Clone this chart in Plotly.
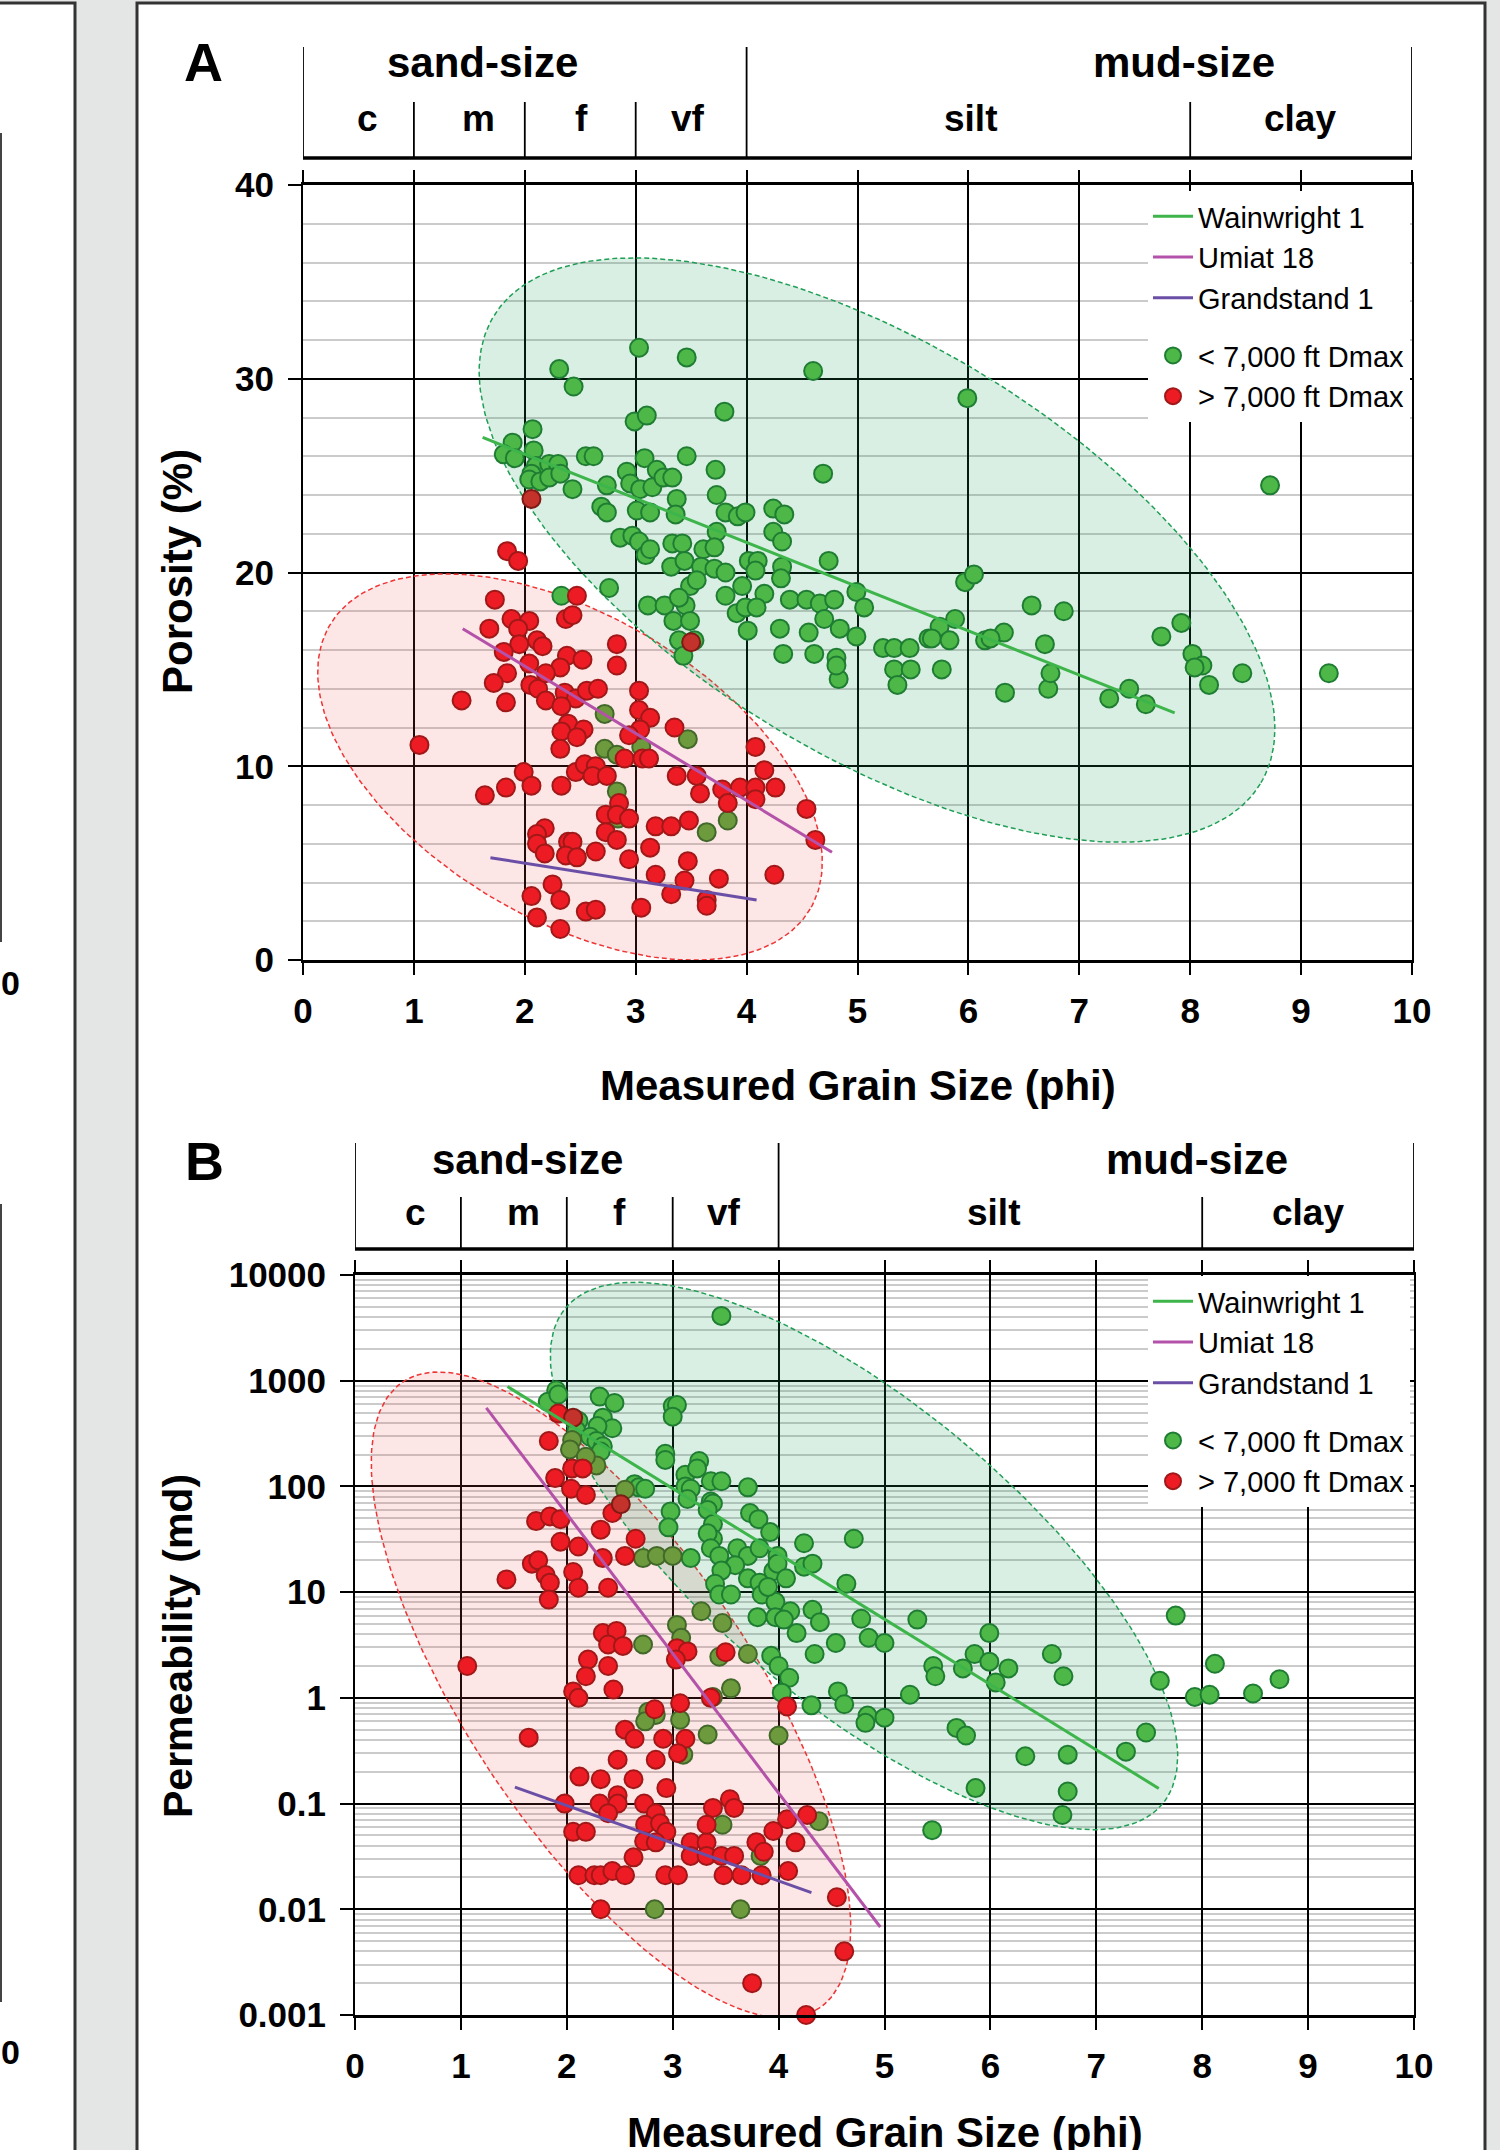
import numpy as np
import plotly.graph_objects as go

W, H = 1500, 2150
FONT = "Liberation Sans, Arial, Helvetica, sans-serif"

# ======================= DATA =======================
# Panel A : porosity (%) vs measured grain size (phi)
a_green_phi = [3.03, 2.31, 2.44, 3.46, 4.60, 3.80, 2.99, 3.10, 5.99, 8.72, 9.25,
               2.07, 1.89, 1.81, 1.91, 2.08, 2.10, 2.55, 2.62, 3.08, 3.46,
               2.22, 2.30, 2.06, 2.04, 2.14, 2.22, 2.32, 2.43, 2.74, 2.92, 2.95, 3.04, 3.15, 3.19,
               3.25, 3.33, 3.72, 3.37, 3.73, 2.69, 2.74, 3.01, 3.13, 3.36, 3.81, 3.92, 3.99, 4.24,
               4.34, 4.69, 2.86, 2.97, 3.03, 3.09, 3.13, 3.33, 3.42, 3.61, 3.73, 3.71,
               3.32, 3.44, 3.59, 3.71, 3.81, 4.02, 4.10, 4.08, 4.24, 4.32, 4.32, 4.74, 4.31,
               2.76, 3.49, 3.55, 3.96, 4.16, 3.81, 3.11, 3.26, 3.45, 3.39, 3.91, 3.99, 4.09,
               4.39, 4.54, 4.66, 4.79, 3.34, 3.49, 4.01, 4.30, 4.56, 3.39, 3.53, 3.43,
               4.99, 5.06, 4.70, 4.84, 4.99, 4.33, 4.61, 4.81, 4.83, 4.81,
               5.23, 5.33, 5.47, 5.33, 5.48, 5.36, 5.64, 5.97, 6.05, 6.57, 6.86,
               5.88, 5.74, 5.67, 5.83, 6.15, 6.32, 6.69, 5.76, 6.72, 6.74, 6.33, 7.27, 7.45, 7.60,
               7.74, 7.92, 8.02, 8.11, 8.04, 8.17, 8.47, 6.20,
               2.33, 2.72, 2.72, 2.83, 3.05, 3.47, 2.83, 2.84, 3.83, 3.64]
a_green_por = [31.6, 30.5, 29.6, 31.1, 30.4, 28.3, 27.8, 28.1, 29.0, 24.5, 14.8,
               27.4, 26.7, 26.1, 25.9, 26.3, 25.5, 26.0, 26.0, 25.9, 26.0,
               25.6, 25.6, 25.1, 24.8, 24.7, 24.9, 25.1, 24.3, 24.5, 25.2, 24.6, 24.3, 24.4, 25.3,
               24.9, 24.9, 25.3, 23.8, 24.0, 23.4, 23.1, 23.2, 23.1, 23.0, 23.1, 22.9, 23.1, 23.3,
               23.0, 25.1, 21.8, 21.9, 21.6, 20.9, 21.2, 21.5, 21.5, 21.2, 22.1, 21.3,
               20.3, 20.6, 20.3, 20.2, 20.0, 20.6, 20.6, 20.1, 22.1, 21.6, 20.3, 20.6, 19.7,
               19.2, 19.3, 19.6, 19.3, 18.9, 18.8, 18.3, 18.3, 18.3, 18.7, 17.9, 18.2, 18.2,
               18.6, 18.6, 18.4, 18.6, 17.5, 17.5, 17.0, 17.1, 16.9, 16.5, 16.5, 15.7,
               19.0, 18.2, 17.6, 17.1, 16.7, 15.8, 15.8, 15.6, 14.5, 15.2,
               16.1, 16.1, 16.1, 15.0, 15.0, 14.2, 16.6, 19.5, 19.9, 18.3, 18.0,
               17.6, 17.2, 16.6, 16.5, 16.5, 16.9, 16.3, 15.0, 14.0, 14.8, 13.8, 13.5, 14.0, 13.2,
               16.7, 17.4, 15.8, 15.2, 15.1, 14.2, 14.8, 16.6,
               18.8, 12.7, 10.9, 10.6, 11.0, 11.4, 8.7, 7.3, 7.2, 6.6]

a_red_phi = [1.84, 2.06, 1.94, 1.73, 2.47, 1.88, 2.04, 1.68, 1.94, 2.37, 2.43, 2.11, 2.16, 1.95,
             1.81, 2.83, 2.38, 2.52, 2.04, 2.32, 2.83, 1.84, 1.72, 2.05, 2.12, 2.19, 2.36, 2.46,
             2.56, 2.66, 3.03, 1.43, 1.83, 2.19, 2.33, 3.03, 3.13, 2.39, 2.53, 2.33, 2.47, 3.04,
             2.94, 3.35, 1.05, 2.32, 4.08, 2.90, 3.06, 3.12, 4.16, 1.99, 2.46, 2.54, 2.64, 2.61,
             2.74, 3.37, 3.55, 2.06, 2.33, 1.83, 1.64, 3.58, 3.78, 3.94, 4.08, 4.08, 4.26, 3.83,
             2.85, 2.73, 2.83, 2.94, 4.54, 3.18, 3.32, 3.48, 2.18, 2.11, 2.73, 2.83, 2.11, 2.18,
             2.39, 2.43, 2.37, 2.47, 2.64, 3.13, 4.62, 2.94, 3.47, 3.18, 3.44, 3.75, 4.25, 2.25,
             2.06, 2.32, 3.32, 3.64, 3.64, 2.11, 2.55, 2.64, 3.05, 2.32, 3.50]
a_red_por = [21.1, 23.8, 20.6, 18.6, 18.8, 17.6, 17.5, 17.1, 17.1, 17.6, 17.8, 16.5, 16.2, 16.3,
             15.9, 16.3, 15.7, 15.5, 15.3, 15.1, 15.2, 14.8, 14.3, 14.2, 14.0, 14.8, 13.8, 13.5,
             13.9, 14.0, 13.9, 13.4, 13.3, 13.4, 13.1, 12.9, 12.5, 12.2, 11.9, 11.8, 11.5, 11.9,
             11.6, 12.0, 11.1, 10.9, 11.0, 10.4, 10.4, 10.4, 9.8, 9.7, 9.7, 10.1, 10.0, 9.5,
             9.5, 9.5, 9.5, 9.0, 9.0, 8.9, 8.5, 8.6, 8.8, 8.9, 8.9, 8.3, 8.9, 8.1,
             8.1, 7.5, 7.5, 7.3, 7.8, 6.9, 6.9, 7.2, 6.8, 6.5, 6.6, 6.2, 6.0, 5.5,
             6.1, 6.1, 5.4, 5.3, 5.6, 5.8, 6.2, 5.2, 5.1, 4.4, 4.1, 4.2, 4.4, 3.9,
             3.3, 3.1, 3.4, 3.1, 2.8, 2.2, 2.5, 2.6, 2.7, 1.6, 16.4]

# trend lines (end points)
a_wain_phi, a_wain_por = [1.62, 7.86], [26.97, 12.75]
a_umiat_phi, a_umiat_por = [1.44, 4.77], [17.1, 5.56]
a_grand_phi, a_grand_por = [1.69, 4.09], [5.28, 3.10]

# Panel B : permeability (md) vs measured grain size (phi)
b_green_phi = [3.46, 1.90, 1.82, 1.92, 2.31, 2.45, 2.34, 2.43, 2.29, 2.11, 2.09, 2.05, 2.03,
               2.22, 2.28, 2.34, 2.32, 2.28, 2.18, 3.00, 3.04, 3.00, 2.93, 2.93, 3.12, 3.25, 3.23,
               2.64, 2.68, 2.74, 2.55, 3.12, 3.17, 3.14, 2.98, 2.96,
               2.72, 2.85, 3.00, 3.17, 3.27, 2.72, 3.04, 3.08,
               3.36, 3.46, 3.71, 3.36, 3.38, 3.33, 3.38, 3.38, 3.33, 3.73, 3.81, 3.92,
               3.36, 3.44, 3.61, 3.71, 3.82, 3.59, 3.46, 3.40, 3.44, 3.55, 3.71, 3.82, 3.95,
               3.99, 3.99, 4.07, 3.84, 3.97, 3.90, 4.24, 4.71, 4.24, 4.32, 4.64,
               4.11, 4.32, 4.39, 3.80, 3.97, 4.05, 3.47, 4.78, 5.31, 4.17, 4.34, 4.54, 4.85, 5.00,
               5.99, 3.71, 3.93, 4.00, 4.10, 5.46, 5.48, 5.74, 5.85, 5.99, 6.17, 6.05, 6.58, 6.69,
               7.60, 7.75, 8.12, 7.93, 8.07, 8.48, 8.73, 4.03, 4.31, 4.56, 4.62, 4.84, 4.82, 5.00,
               5.24, 5.68, 5.77, 7.47, 7.28, 6.33, 6.73, 5.86, 6.73, 6.68, 5.45, 3.44,
               3.55, 3.38, 2.77, 2.84, 2.74, 3.07, 3.33, 4.00, 3.10, 3.47, 4.38, 3.83, 2.83, 3.64]
b_green_perm = [4100, 813, 631, 741, 708, 617, 447, 355, 372, 417, 339, 275, 224,
                295, 269, 240, 214, 158, 191, 575, 589, 457, 204, 178, 129, 174, 148,
                105, 98, 95, 93, 100, 95, 76, 58, 41,
                21, 22, 22, 21, 6.6, 3.2, 4.9, 3.7,
                112, 112, 98, 72, 69, 60, 44, 32, 36, 56, 49, 37,
                26, 22, 26, 22, 26, 18, 16, 12, 9.5, 9.5, 13.5, 12.3, 15.8,
                22, 18.6, 13.5, 9.5, 8.1, 11.2, 29, 32, 17.4, 18.6, 12,
                6.6, 6.8, 5.2, 5.8, 5.8, 5.5, 5.1, 5.6, 5.5, 4.1, 2.6, 3.3, 3.7, 3.3,
                4.1, 2.6, 2.5, 2.0, 1.55, 2.0, 1.6, 1.9, 2.6, 2.2, 1.9, 1.4, 2.6, 1.6,
                1.45, 6.0, 2.1, 1.02, 1.07, 1.1, 1.5, 1.12, 0.85, 1.15, 0.87, 0.68, 0.58, 0.65,
                1.07, 0.52, 0.44, 0.47, 0.31, 0.28, 0.29, 0.14, 0.13, 0.078, 0.056, 2.45,
                1.23, 1.02, 0.74, 0.69, 0.60, 0.62, 0.45, 0.44, 0.29, 0.063, 0.068, 0.032, 0.010, 0.010]

b_red_phi = [1.83, 1.92, 2.06, 2.05, 2.15, 1.89, 2.04, 2.18, 2.51, 2.43, 2.32, 1.71, 1.84, 1.94,
             1.94, 2.11, 2.65, 2.34, 2.55, 1.67, 1.73, 1.43, 1.80, 1.84, 1.83, 2.06, 2.11, 2.39,
             2.34, 2.47, 2.39, 2.53, 2.20, 2.39, 2.18, 2.06, 2.11, 2.44, 1.06, 3.04, 3.14, 3.03,
             3.50, 3.36, 3.07, 2.83, 4.08, 1.64, 2.55, 2.64, 2.91, 3.12, 3.05, 2.48, 2.84, 2.12,
             2.32, 2.63, 2.94, 2.48, 1.98, 2.31, 2.48, 2.73, 2.39, 2.84, 2.74, 2.88, 2.94, 2.73,
             2.84, 2.63, 2.06, 2.18, 2.11, 2.26, 2.32, 2.43, 2.55, 2.93, 3.05, 3.17, 3.32, 3.17,
             3.32, 3.38, 3.32, 3.54, 3.58, 3.46, 3.58, 3.48, 3.65, 3.84, 3.79, 3.86, 3.95, 4.08,
             4.16, 4.09, 4.27, 2.32, 4.55, 4.62, 3.75, 4.26]
b_red_perm = [269, 490, 447, 148, 148, 120, 95, 83, 68, 56, 39, 47, 52, 49,
              30, 27, 32, 21, 22, 18.6, 20, 13.2, 14.5, 12.3, 8.5, 15.5, 11, 11,
              4.1, 4.3, 3.2, 3.1, 2.3, 2.0, 1.6, 1.15, 1.0, 1.2, 2.0, 2.95, 2.75, 2.3,
              2.7, 1.0, 0.89, 0.78, 0.83, 0.42, 0.50, 0.41, 0.41, 0.41, 0.30, 0.26, 0.26, 0.18,
              0.17, 0.17, 0.14, 0.12, 0.10, 0.10, 0.10, 0.10, 0.081, 0.081, 0.063, 0.065, 0.054, 0.044,
              0.043, 0.031, 0.054, 0.054, 0.021, 0.021, 0.021, 0.023, 0.021, 0.021, 0.021, 0.043, 0.043, 0.032,
              0.032, 0.091, 0.063, 0.11, 0.091, 0.032, 0.032, 0.021, 0.021, 0.021, 0.043, 0.035, 0.055, 0.071,
              0.043, 0.023, 0.078, 0.010, 0.013, 0.004, 0.002, 0.001]

b_wain_phi, b_wain_perm = [1.44, 7.59], [880, 0.139]
b_umiat_phi, b_umiat_perm = [1.24, 4.96], [553, 0.0068]
b_grand_phi, b_grand_perm = [1.51, 4.31], [0.143, 0.0144]

# category labels
well_names = ["Wainwright 1", "Umiat 18", "Grandstand 1"]
depth_names = ["< 7,000 ft Dmax", "> 7,000 ft Dmax"]
size_groups = ["sand-size", "mud-size"]
grain_classes = ["c", "m", "f", "vf", "silt", "clay"]
class_bounds = [0, 1, 2, 3, 4, 8, 10]
group_bounds = [0, 4, 10]

# ======================= LAYOUT GEOMETRY (pixels) =======================
PA = dict(x0=303, x1=1412, y0=185, y1=960, xr=(0, 10), yr=(0, 40), log=False)
PB = dict(x0=355, x1=1414, y0=1275, y1=2015, xr=(0, 10), yr=(-3, 4), log=True)

# envelope ellipses: centre (px), semi-axes (px), tilt (deg, screen)
ELL_A_GREEN = (877, 550, 449, 205, 31.4)
ELL_A_RED = (570, 767, 279, 152, 30.6)
ELL_B_GREEN = (864, 1556, 388, 151, 39.7)
ELL_B_RED = (611, 1695, 376, 143, 56.4)

GREEN, GREEN_EDGE = "#4db848", "#1f7d33"
RED, RED_EDGE = "#ed1c24", "#a01818"
OLIVE, OLIVE_EDGE = "#6c9a3c", "#42682a"
DKRED, DKRED_EDGE = "#c3322b", "#7f1b15"
C_WAIN, C_UMIAT, C_GRAND = "#3db54a", "#b452a9", "#6b4fa6"


def scale(p):
    sx = (p['x1'] - p['x0']) / (p['xr'][1] - p['xr'][0])
    sy = (p['y1'] - p['y0']) / (p['yr'][1] - p['yr'][0])
    return sx, sy


def to_px(p, x, y):
    sx, sy = scale(p)
    x = np.asarray(x, float)
    y = np.asarray(y, float)
    yy = np.log10(y) if p['log'] else y
    return p['x0'] + (x - p['xr'][0]) * sx, p['y1'] - (yy - p['yr'][0]) * sy


def from_px(p, px, py):
    sx, sy = scale(p)
    x = p['xr'][0] + (px - p['x0']) / sx
    yy = p['yr'][0] + (p['y1'] - py) / sy
    return x, (10 ** yy if p['log'] else yy)


def ellipse(p, e, n=240):
    cx, cy, a, b, ang = e
    th = np.radians(ang)
    t = np.linspace(0, 2 * np.pi, n)
    px = cx + a * np.cos(t) * np.cos(th) - b * np.sin(t) * np.sin(th)
    py = cy + a * np.cos(t) * np.sin(th) + b * np.sin(t) * np.cos(th)
    return from_px(p, px, py)


def inside(p, e, x, y):
    cx, cy, a, b, ang = e
    th = np.radians(ang)
    px, py = to_px(p, x, y)
    dx, dy = px - cx, py - cy
    u = dx * np.cos(th) + dy * np.sin(th)
    v = -dx * np.sin(th) + dy * np.cos(th)
    return (u / a) ** 2 + (v / b) ** 2 <= 1.0


fig = go.Figure()


def add_panel(p, xa, ya, leg, ell_g, ell_r, g_phi, g_val, r_phi, r_val, lines):
    for e, fc, lc in [(ell_r, "rgba(235,80,80,0.14)", "#ee3535"),
                      (ell_g, "rgba(30,160,90,0.17)", "#1f9e55")]:
        ex, ey = ellipse(p, e)
        fig.add_trace(go.Scatter(x=ex, y=ey, mode="lines", fill="toself", fillcolor=fc,
                                 line=dict(color=lc, width=1.5, dash="5px,3px"),
                                 hoverinfo="skip", showlegend=False, xaxis=xa, yaxis=ya))
    for phi, val, other, base, edge, tint, tedge, name, rank in [
            (g_phi, g_val, ell_r, GREEN, GREEN_EDGE, OLIVE, OLIVE_EDGE, depth_names[0], 4),
            (r_phi, r_val, ell_g, RED, RED_EDGE, DKRED, DKRED_EDGE, depth_names[1], 5)]:
        phi = np.asarray(phi, float)
        val = np.asarray(val, float)
        ins = inside(p, other, phi, val)
        order = np.argsort(ins, kind="stable")
        phi, val, ins = phi[order], val[order], ins[order]
        fig.add_trace(go.Scatter(
            x=phi, y=val, mode="markers", name=name, legend=leg, legendgroup="pts",
            legendrank=rank, cliponaxis=False,
            marker=dict(size=18, color=[tint if i else base for i in ins],
                        line=dict(color=[tedge if i else edge for i in ins], width=2)),
            xaxis=xa, yaxis=ya, hoverinfo="x+y"))
    for (lx, ly), name, col, rank in zip(lines, well_names, [C_WAIN, C_UMIAT, C_GRAND], [1, 2, 3]):
        fig.add_trace(go.Scatter(x=lx, y=ly, mode="lines", name=name, legend=leg,
                                 legendgroup="lines", legendrank=rank,
                                 line=dict(color=col, width=3), xaxis=xa, yaxis=ya))


add_panel(PA, "x", "y", "legend", ELL_A_GREEN, ELL_A_RED,
          a_green_phi, a_green_por, a_red_phi, a_red_por,
          [(a_wain_phi, a_wain_por), (a_umiat_phi, a_umiat_por), (a_grand_phi, a_grand_por)])
add_panel(PB, "x2", "y2", "legend2", ELL_B_GREEN, ELL_B_RED,
          b_green_phi, b_green_perm, b_red_phi, b_red_perm,
          [(b_wain_phi, b_wain_perm), (b_umiat_phi, b_umiat_perm), (b_grand_phi, b_grand_perm)])

tickfont = dict(family=FONT, size=35, color="black", weight="bold")


def xaxis(p, anchor):
    return dict(domain=[p['x0'] / W, p['x1'] / W], range=list(p['xr']), tickmode="linear",
                tick0=0, dtick=1, showgrid=True, gridcolor="black", gridwidth=1.5,
                showline=True, linecolor="black", linewidth=3, mirror="ticks",
                ticks="outside", ticklen=12, tickwidth=1.5, tickcolor="black",
                tickfont=tickfont, zeroline=False, anchor=anchor, ticklabelstandoff=6,
                automargin=False, fixedrange=True)


yA = dict(domain=[1 - PA['y1'] / H, 1 - PA['y0'] / H], range=list(PA['yr']), tickmode="linear",
          tick0=0, dtick=10, showgrid=True, gridcolor="black", gridwidth=2,
          minor=dict(tickmode="linear", tick0=0, dtick=2, showgrid=True,
                     gridcolor="#cbcbcb", gridwidth=2, ticks=""),
          showline=True, linecolor="black", linewidth=2, mirror=True,
          ticks="outside", ticklen=13, tickwidth=2, tickcolor="black",
          tickfont=tickfont, zeroline=False, anchor="x", ticklabelstandoff=7,
          automargin=False, fixedrange=True)
yB = dict(domain=[1 - PB['y1'] / H, 1 - PB['y0'] / H], type="log", range=list(PB['yr']),
          tickmode="linear", tick0=0, dtick=1, tickformat="~g",
          showgrid=True, gridcolor="black", gridwidth=2,
          minor=dict(tickmode="linear", dtick="D1", showgrid=True,
                     gridcolor="#cbcbcb", gridwidth=1.5, ticks=""),
          showline=True, linecolor="black", linewidth=2, mirror=True,
          ticks="outside", ticklen=13, tickwidth=2, tickcolor="black",
          tickfont=tickfont, zeroline=False, anchor="x2", ticklabelstandoff=7,
          automargin=False, fixedrange=True)


def PX(px):
    return px / W


def PY(py):
    return 1 - py / H


shapes = [
    dict(type="rect", xref="paper", yref="paper", x0=PX(-10), x1=PX(75), y0=PY(2200), y1=PY(3),
         fillcolor="white", line=dict(color="#333333", width=3), layer="below"),
    dict(type="rect", xref="paper", yref="paper", x0=PX(137), x1=PX(1485), y0=PY(2200), y1=PY(3),
         fillcolor="white", line=dict(color="#333333", width=3), layer="below"),
    dict(type="line", xref="paper", yref="paper", x0=PX(1), x1=PX(1), y0=PY(133), y1=PY(942),
         line=dict(color="#444444", width=2)),
    dict(type="line", xref="paper", yref="paper", x0=PX(1), x1=PX(1), y0=PY(1204), y1=PY(2002),
         line=dict(color="#444444", width=2)),
]
annotations = []


def header(xref, top, mid, base, grp_pos, cls_pos, grp_y, cls_y):
    for b in class_bounds:
        y_top = top if b in group_bounds else mid
        shapes.append(dict(type="line", xref=xref, yref="paper", x0=b, x1=b,
                           y0=PY(base), y1=PY(y_top), line=dict(color="black", width=1.8)))
    shapes.append(dict(type="line", xref=xref, yref="paper", x0=class_bounds[0],
                       x1=class_bounds[-1], y0=PY(base), y1=PY(base),
                       line=dict(color="black", width=3.5)))
    for txt, xp in zip(size_groups, grp_pos):
        annotations.append(dict(text=txt, xref=xref, yref="paper", x=xp, y=PY(grp_y),
                                showarrow=False, xanchor="center", yanchor="middle",
                                font=dict(family=FONT, size=42, color="black", weight="bold")))
    for txt, xp in zip(grain_classes, cls_pos):
        annotations.append(dict(text=txt, xref=xref, yref="paper", x=xp, y=PY(cls_y),
                                showarrow=False, xanchor="center", yanchor="middle",
                                font=dict(family=FONT, size=37, color="black", weight="bold")))


header("x", 47, 102, 158, [1.62, 7.94], [0.58, 1.58, 2.51, 3.47, 6.02, 8.99], 62, 119)
header("x2", 1143, 1197, 1249, [1.63, 7.95], [0.57, 1.59, 2.50, 3.48, 6.03, 9.00], 1159, 1212)


def label(text, px, py, size, angle=0, xanchor="center"):
    annotations.append(dict(text=text, xref="paper", yref="paper", x=PX(px), y=PY(py),
                            showarrow=False, xanchor=xanchor, yanchor="middle", textangle=angle,
                            font=dict(family=FONT, size=size, color="black", weight="bold")))


label("A", 203, 62, 54)
label("B", 204, 1161, 54)
label("Porosity (%)", 178, 572, 42, angle=-90)
label("Permeability (md)", 178, 1646, 41, angle=-90)
label("Measured Grain Size (phi)", 857.5, 1085, 42)
label("Measured Grain Size (phi)", 884.5, 2132, 42)
label("0", 10, 983, 34)
label("0", 10, 2052, 34)

legend_common = dict(bgcolor="white", borderwidth=0,
                     font=dict(family=FONT, size=29, color="black"),
                     traceorder="grouped", tracegroupgap=17, xanchor="right", yanchor="top",
                     itemwidth=40)

fig.update_layout(
    width=W, height=H, autosize=False,
    margin=dict(l=0, r=0, t=0, b=0, pad=0, autoexpand=False),
    paper_bgcolor="#e4e6e5", plot_bgcolor="rgba(0,0,0,0)",
    xaxis=xaxis(PA, "y"), yaxis=yA,
    xaxis2=xaxis(PB, "y2"), yaxis2=yB,
    legend=dict(x=PX(1410), y=PY(191), **legend_common),
    legend2=dict(x=PX(1410), y=PY(1276), **legend_common),
    shapes=shapes, annotations=annotations,
    hovermode="closest",
)

# page styling: no body margin, plot pinned at the top-left corner (runs synchronously)
PAGE_JS = ("document.documentElement.style.margin='0';"
           "document.documentElement.style.padding='0';"
           "document.documentElement.style.overflow='hidden';"
           "document.body.style.margin='0';document.body.style.padding='0';"
           "document.body.style.overflow='hidden';"
           "var _g=document.getElementsByClassName('plotly-graph-div');"
           "for(var _i=0;_i<_g.length;_i++){_g[_i].style.position='absolute';"
           "_g[_i].style.left='0px';_g[_i].style.top='0px';}")

fig.write_html("out.html", config={"displayModeBar": False},
               post_script="});" + PAGE_JS + "(function(){")
